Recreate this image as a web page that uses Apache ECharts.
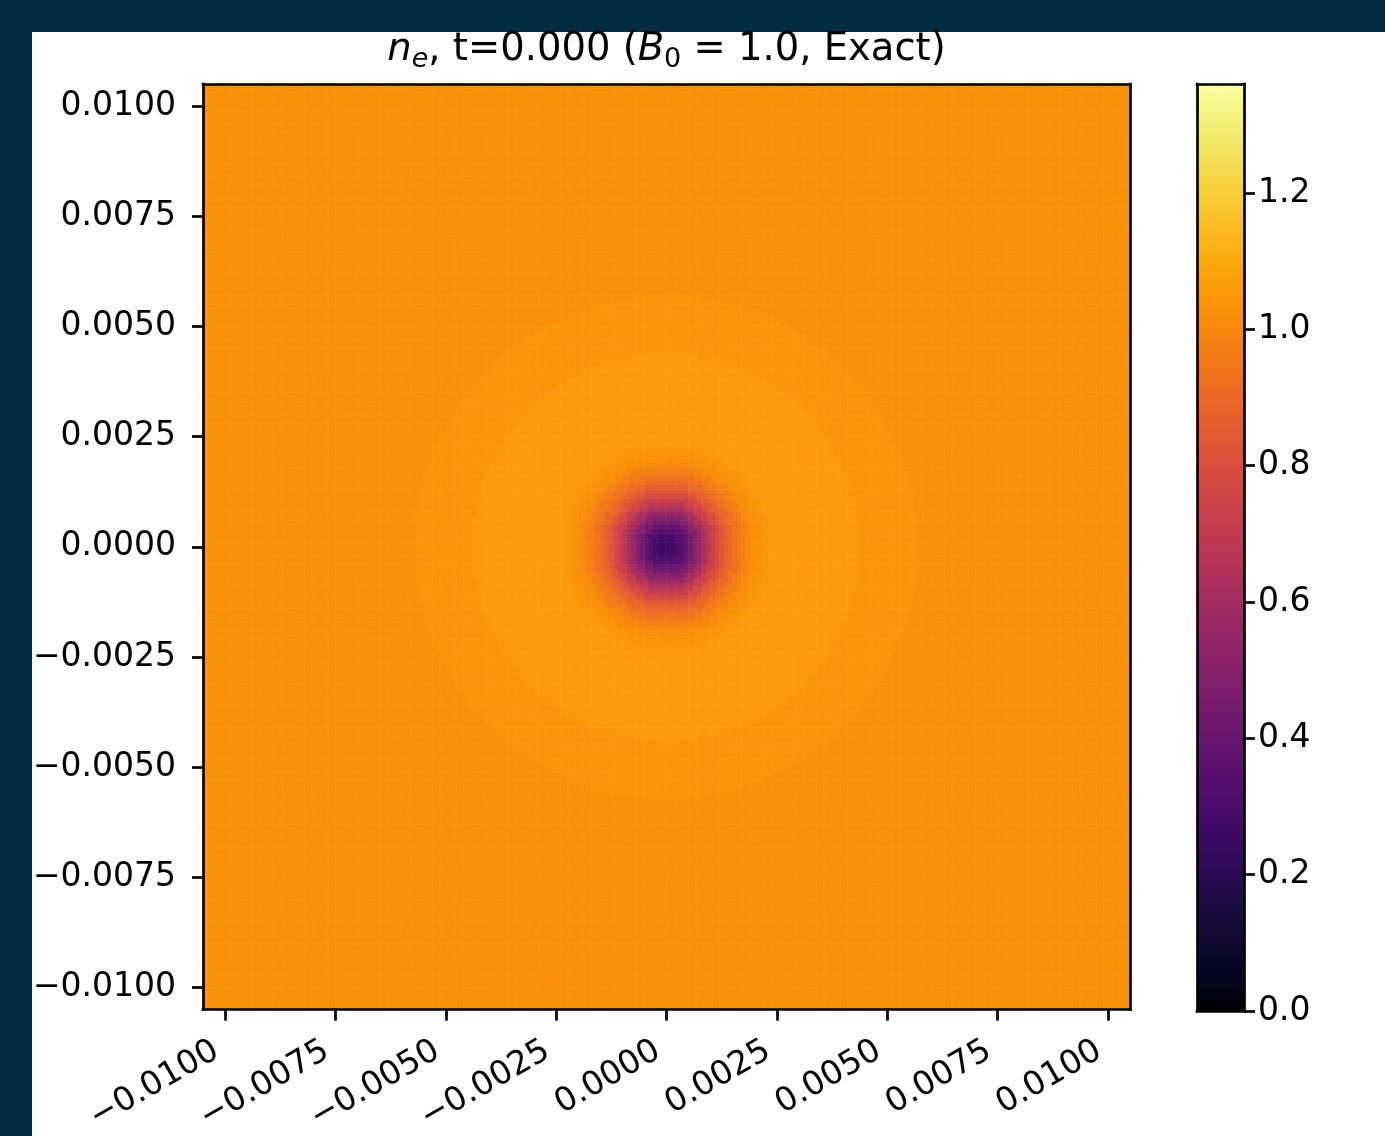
<!DOCTYPE html>
<html>
<head>
<meta charset="utf-8">
<script src="https://cdn.jsdelivr.net/npm/echarts@6/dist/echarts.min.js"></script>
<style>
html, body { margin:0; padding:0; width:1385px; height:1136px; overflow:hidden; background:#032b44; }
#panel { position:absolute; left:32px; top:32px; right:0; bottom:0; background:#fff; }
#main { position:absolute; left:0; top:0; width:1385px; height:1136px; }
</style>
</head>
<body>
<div id="panel"></div>
<div id="main"></div>
<script>
// axis ticks
var xTicks = [-0.01, -0.0075, -0.005, -0.0025, 0, 0.0025, 0.005, 0.0075, 0.01];
var yTicks = [-0.01, -0.0075, -0.005, -0.0025, 0, 0.0025, 0.005, 0.0075, 0.01];
var cbarTicks = [0, 0.2, 0.4, 0.6, 0.8, 1.0, 1.2];
var domain = [-0.0105, 0.0105];
var cellSize = 0.0001;
var nMax = 1.36;

// radial profile of n_e (core: nearest sample)
var coreR = [0, 0.0001, 0.0002, 0.0003, 0.0004, 0.0005, 0.0006, 0.0007, 0.0008, 0.0009,
             0.0010, 0.0011, 0.0012, 0.0013, 0.0014, 0.0015, 0.0016, 0.0017, 0.0018, 0.0019,
             0.0020, 0.0021, 0.0022, 0.0023, 0.0024];
var coreN = [0.24, 0.25, 0.27, 0.30, 0.34, 0.39, 0.44, 0.50, 0.56, 0.62,
             0.68, 0.73, 0.78, 0.83, 0.87, 0.90, 0.93, 0.96, 0.98, 1.00,
             1.02, 1.03, 1.04, 1.05, 1.055];
// outer shells (value holds from radius outward)
var shellR = [0.00245, 0.0044, 0.0057];
var shellN = [1.055, 1.045, 1.03];

var inferno = ['#000004','#0a0729','#160b39','#2c0b55','#420a68','#560f6e','#6a176e','#7e1e6c',
               '#932667','#a72d5f','#bc3754','#cd4347','#dd513a','#e9642a','#f37819','#f98e09',
               '#fca50a','#fabe26','#f6d746','#f1ed71','#fcffa4'];

function nAt(r) {
    if (r < shellR[0]) {
        var best = 0;
        for (var k = 1; k < coreR.length; k++) {
            if (Math.abs(coreR[k] - r) < Math.abs(coreR[best] - r)) best = k;
        }
        return coreN[best];
    }
    var v = shellN[0];
    for (var j = 0; j < shellR.length; j++) {
        if (r >= shellR[j]) v = shellN[j];
    }
    return v;
}

var nCell = Math.round((domain[1] - domain[0]) / cellSize);
var cellC = [];
for (var i = 0; i < nCell; i++) {
    cellC.push(domain[0] + (i + 0.5) * cellSize);
}
var cells = [];
for (var iy = 0; iy < nCell; iy++) {
    for (var ix = 0; ix < nCell; ix++) {
        cells.push([ix, iy, nAt(Math.sqrt(cellC[ix] * cellC[ix] + cellC[iy] * cellC[iy]))]);
    }
}
var catLabels = cellC.map(function (v) { return v.toFixed(5); });

function fmt4(v) {
    var s = Math.abs(v).toFixed(4);
    return (v < -1e-12 ? '\u2212' : '') + s;
}

var FONT = 'DejaVu Sans';
var LW = 2.7;
var tickStyle = { show: true, inside: false, length: 11, lineStyle: { color: '#000', width: LW } };
var frameLine = { show: true, onZero: false, lineStyle: { color: '#000', width: LW, cap: 'square' } };
// axis used only to draw one side of a frame
function frameAxis(gridIndex, position, extra) {
    return Object.assign({
        gridIndex: gridIndex, position: position, z: 10,
        axisLine: frameLine, axisTick: { show: false }, axisLabel: { show: false },
        splitLine: { show: false }
    }, extra);
}

var myChart = echarts.init(document.getElementById('main'), null, { renderer: 'canvas' });
var option = {
    animation: false,
    backgroundColor: 'transparent',
    graphic: [{
        type: 'text',
        x: 666.5,
        y: 50,
        style: {
            text: '{i|n}{ie|e}{r|, t=0.000 (}{i|B}{s|0}{r| = 1.0, Exact)}',
            align: 'center',
            verticalAlign: 'middle',
            rich: {
                i: { fontFamily: FONT, fontStyle: 'italic', fontSize: 38.5, lineHeight: 46, fill: '#000' },
                r: { fontFamily: FONT, fontSize: 38.5, lineHeight: 46, fill: '#000' },
                ie: { fontFamily: FONT, fontStyle: 'italic', fontSize: 27, lineHeight: 21, verticalAlign: 'bottom', fill: '#000' },
                s: { fontFamily: FONT, fontSize: 27, lineHeight: 21, verticalAlign: 'bottom', fill: '#000' }
            }
        }
    }],
    grid: [
        { left: 203, top: 84, width: 927, height: 927 },
        { left: 1197, top: 84, width: 47, height: 927 }
    ],
    xAxis: [
        frameAxis(0, 'top', { type: 'category', data: catLabels }),
        { type: 'value', gridIndex: 0, position: 'bottom', min: domain[0], max: domain[1], z: 10,
          axisLine: frameLine,
          splitLine: { show: false },
          axisTick: Object.assign({ customValues: xTicks }, tickStyle),
          axisLabel: { customValues: xTicks, formatter: fmt4, rotate: 30, margin: 34,
                       padding: [0, 10, 0, 0], fontSize: 33, color: '#000', fontFamily: FONT } },
        frameAxis(1, 'bottom', { type: 'value', min: 0, max: 1 }),
        frameAxis(1, 'top', { type: 'value', min: 0, max: 1 })
    ],
    yAxis: [
        frameAxis(0, 'right', { type: 'category', data: catLabels }),
        { type: 'value', gridIndex: 0, position: 'left', min: domain[0], max: domain[1], z: 10,
          axisLine: frameLine,
          splitLine: { show: false },
          axisTick: Object.assign({ customValues: yTicks }, tickStyle),
          axisLabel: { customValues: yTicks, formatter: fmt4, margin: 27,
                       fontSize: 33, color: '#000', fontFamily: FONT } },
        { type: 'value', gridIndex: 1, position: 'right', min: 0, max: nMax, z: 10,
          axisLine: frameLine,
          splitLine: { show: false },
          axisTick: Object.assign({ customValues: cbarTicks }, tickStyle),
          axisLabel: { customValues: cbarTicks, formatter: function (v) { return v.toFixed(1); },
                       margin: 14, fontSize: 33, color: '#000', fontFamily: FONT } },
        frameAxis(1, 'left', { type: 'value', min: 0, max: nMax })
    ],
    visualMap: {
        type: 'continuous',
        min: 0,
        max: nMax,
        seriesIndex: 0,
        dimension: 2,
        orient: 'vertical',
        left: 1197,
        top: 84,
        itemWidth: 47,
        itemHeight: 927,
        padding: 0,
        calculable: false,
        hoverLink: false,
        text: null,
        inRange: { color: inferno }
    },
    series: [{
        name: 'n_e',
        type: 'heatmap',
        xAxisIndex: 0,
        yAxisIndex: 0,
        data: cells,
        progressive: 0,
        silent: true,
        emphasis: { disabled: true }
    }]
};
myChart.setOption(option);
</script>
</body>
</html>
